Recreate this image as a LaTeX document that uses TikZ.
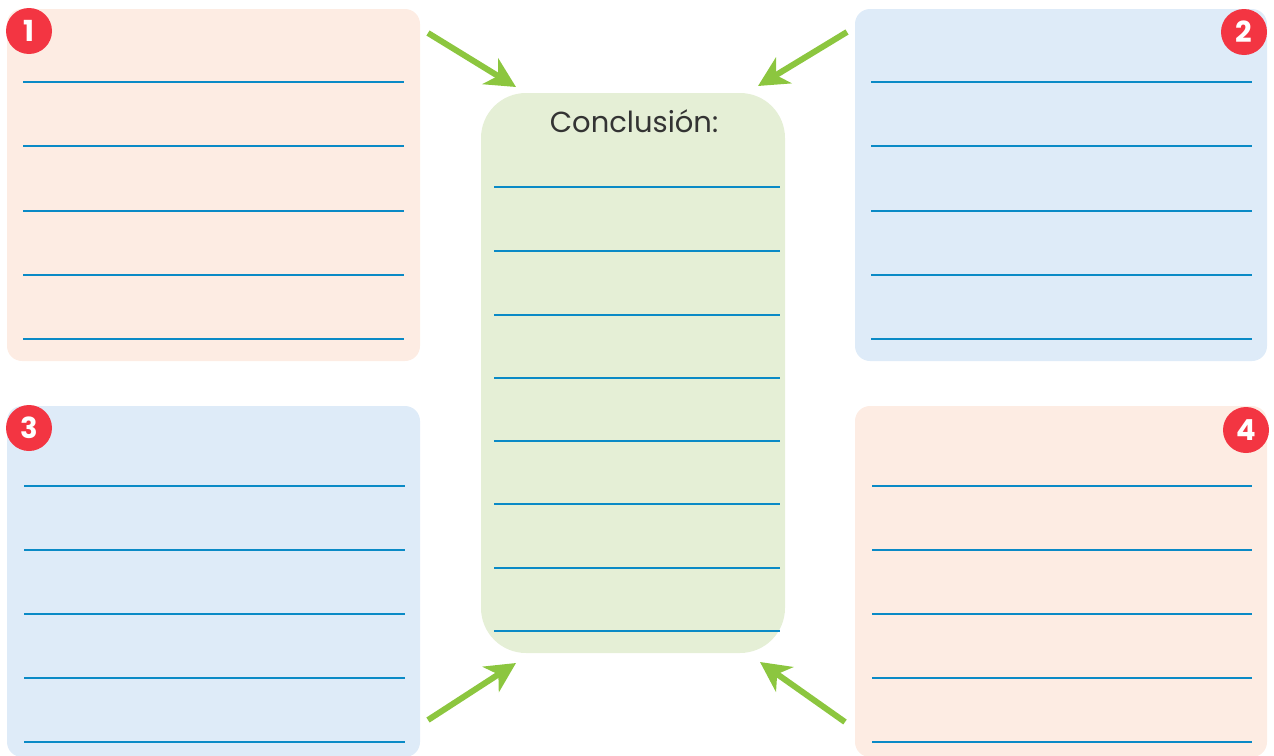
\documentclass[tikz,border=0pt]{standalone}
\usepackage{fontspec}
\setmainfont{Poppins}
\usetikzlibrary{arrows.meta}
\definecolor{pinkf}{HTML}{FDECE3}
\definecolor{bluef}{HTML}{DEEBF8}
\definecolor{greenf}{HTML}{E5EFD6}
\definecolor{badgered}{HTML}{F33542}
\definecolor{ruleblue}{HTML}{0A8AC6}
\definecolor{arrowgreen}{HTML}{8CC63F}
\tikzset{
  panel/.style={rounded corners=15pt, draw=none},
  rule/.style={draw=ruleblue, line width=2.8pt},
  badge/.style={circle, fill=badgered, minimum size=46pt, inner sep=0pt, text=white, font=\fontsize{29}{29}\selectfont\bfseries},
  greenarrow/.style={draw=arrowgreen, line width=6pt, -{Stealth[length=30pt, width=30pt, inset=9pt]}},
}
\begin{document}
\begin{tikzpicture}[x=1pt,y=-1pt]
\useasboundingbox (0,0) rectangle (1274,755);
% panels
\path[panel, fill=pinkf] (7,9) rectangle (420,361);
\path[panel, fill=bluef] (855,9) rectangle (1267,361);
\path[panel, fill=bluef] (7,406) rectangle (420,757);
\path[panel, fill=pinkf] (855,406) rectangle (1267,757);
\path[fill=greenf, rounded corners=45pt] (481,93) rectangle (785,653);
% arrow targets near the center box
\coordinate (ctl) at (516,87);
\coordinate (ctr) at (758,86);
\coordinate (cbl) at (516,663);
\coordinate (cbr) at (760,662);
% rules
\foreach \y in {82,146,211,275,339} {
  \draw[rule] (23,\y) -- (404,\y);
  \draw[rule] (871,\y) -- (1252,\y);
}
\foreach \y in {486,550,614,678,742} {
  \draw[rule] (24,\y) -- (405,\y);
  \draw[rule] (872,\y) -- (1252,\y);
}
\foreach \y in {187,251,315,378,441,504,568,631} {
  \draw[rule] (494,\y) -- (780,\y);
}
\node[text=black!80, font=\fontsize{29}{29}\selectfont, inner sep=0pt] (title) at (634,121) {Conclusión:};
% badges
\node[badge] (b1) at (29,31) {1};
\node[badge] (b2) at (1244,32) {2};
\node[badge] (b3) at (29,428) {3};
\node[badge] (b4) at (1246,430) {4};
% arrows
\coordinate (a1) at (428,33);
\coordinate (a2) at (847,32);
\coordinate (a3) at (428,720);
\coordinate (a4) at (845,722);
\draw[greenarrow] (a1) -- (ctl);
\draw[greenarrow] (a2) -- (ctr);
\draw[greenarrow] (a3) -- (cbl);
\draw[greenarrow] (a4) -- (cbr);
\end{tikzpicture}
\end{document}
